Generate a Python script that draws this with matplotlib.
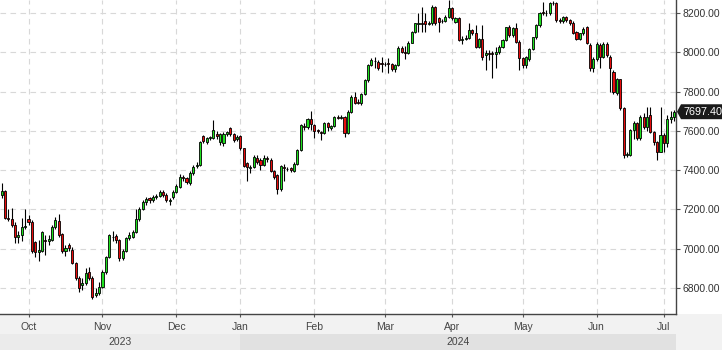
import numpy as np
import pandas as pd
import matplotlib
matplotlib.use("Agg")
import matplotlib.pyplot as plt
import matplotlib.transforms as mtransforms
from matplotlib.patches import Polygon, Rectangle

# daily candles, Sep 20 2023 .. Jul 4 2024 (Euronext trading days)
holidays = ["2023-12-25", "2023-12-26", "2024-01-01", "2024-03-29", "2024-04-01", "2024-05-01"]
dates = pd.bdate_range("2023-09-20", "2024-07-04", freq="C", holidays=holidays)

opens = [
    7274, 7294, 7158, 7150, 7121, 7060, 7068, 7110, 7150, 7135,
    7036, 6985, 6990, 7045, 7040, 7045, 7113, 7141, 7074, 6989,
    7019, 6994, 6926, 6850, 6815, 6824, 6884, 6850, 6765, 6773,
    6807, 6884, 6960, 7058, 7065, 7045, 6955, 6990, 7053, 7062,
    7087, 7150, 7200, 7236, 7258, 7248, 7262, 7270, 7290, 7275,
    7243, 7265, 7290, 7316, 7365, 7359, 7333, 7384, 7420, 7426,
    7576, 7545, 7562, 7566, 7583, 7542, 7537, 7583, 7613, 7583,
    7560, 7574, 7511, 7435, 7413, 7418, 7464, 7452, 7427, 7462,
    7452, 7398, 7376, 7303, 7415, 7405, 7410, 7398, 7432, 7503,
    7625, 7618, 7659, 7630, 7605, 7596, 7591, 7639, 7613, 7625,
    7670, 7667, 7669, 7591, 7698, 7771, 7748, 7740, 7788, 7859,
    7935, 7955, 7952, 7942, 7938, 7944, 7940, 7913, 7935, 8020,
    8003, 7998, 8049, 8105, 8144, 8147, 8161, 8144, 8147, 8232,
    8173, 8161, 8161, 8181, 8224, 8156, 8173, 8063, 8066, 8071,
    8114, 8097, 8029, 8066, 7986, 7998, 7995, 7991, 8003, 8029,
    8063, 8127, 8088, 8122, 8054, 7969, 7935, 7964, 8015, 8076,
    8139, 8205, 8198, 8198, 8249, 8252, 8164, 8160, 8177, 8164,
    8151, 8105, 8066, 8096, 8127, 8037, 7918, 7964, 8037, 7978,
    8042, 7978, 7902, 7794, 7863, 7715, 7477, 7477, 7605, 7638,
    7562, 7672, 7621, 7681, 7596, 7545, 7494, 7579, 7537, 7659,
    7670,
]
highs = [
    7335, 7300, 7200, 7205, 7135, 7090, 7155, 7200, 7170, 7145,
    7040, 7045, 7090, 7070, 7070, 7120, 7160, 7175, 7080, 7020,
    7030, 7010, 6935, 6860, 6850, 6900, 6905, 6860, 6800, 6830,
    6890, 6965, 7075, 7090, 7075, 7050, 7000, 7060, 7085, 7095,
    7200, 7215, 7250, 7262, 7265, 7275, 7280, 7300, 7300, 7285,
    7260, 7300, 7330, 7380, 7375, 7365, 7395, 7425, 7440, 7550,
    7580, 7570, 7575, 7655, 7600, 7590, 7595, 7600, 7620, 7590,
    7580, 7580, 7515, 7440, 7425, 7475, 7475, 7460, 7475, 7470,
    7460, 7400, 7380, 7425, 7430, 7415, 7415, 7440, 7510, 7635,
    7640, 7665, 7700, 7635, 7610, 7600, 7645, 7645, 7630, 7675,
    7680, 7680, 7675, 7705, 7780, 7800, 7760, 7795, 7865, 7940,
    7970, 7975, 7960, 7975, 7950, 7970, 7945, 7940, 8030, 8030,
    8030, 8055, 8110, 8150, 8198, 8230, 8198, 8160, 8241, 8235,
    8180, 8170, 8190, 8266, 8230, 8180, 8180, 8085, 8090, 8147,
    8120, 8140, 8075, 8140, 8010, 8010, 8005, 8029, 8035, 8070,
    8130, 8140, 8130, 8147, 8060, 7975, 7980, 8020, 8080, 8145,
    8205, 8258, 8215, 8255, 8260, 8255, 8175, 8185, 8185, 8170,
    8160, 8110, 8100, 8130, 8135, 8045, 7975, 8050, 8045, 8050,
    8050, 7985, 7910, 7870, 7865, 7720, 7490, 7610, 7650, 7645,
    7680, 7690, 7720, 7723, 7600, 7550, 7720, 7590, 7680, 7700,
    7705,
]
lows = [
    7260, 7150, 7140, 7110, 7030, 7030, 7040, 7100, 7120, 6980,
    6960, 6940, 6985, 6970, 7020, 7040, 7100, 7060, 6980, 6965,
    6990, 6920, 6840, 6780, 6790, 6815, 6840, 6745, 6755, 6765,
    6800, 6870, 6955, 7040, 7030, 6940, 6945, 6985, 7045, 7055,
    7080, 7140, 7195, 7225, 7235, 7240, 7255, 7262, 7265, 7240,
    7222, 7255, 7285, 7310, 7345, 7330, 7325, 7375, 7410, 7420,
    7540, 7535, 7555, 7560, 7560, 7530, 7525, 7575, 7575, 7545,
    7550, 7505, 7415, 7345, 7385, 7410, 7430, 7400, 7420, 7440,
    7390, 7355, 7279, 7295, 7345, 7395, 7390, 7390, 7428, 7500,
    7605, 7610, 7605, 7562, 7590, 7555, 7585, 7600, 7605, 7620,
    7660, 7660, 7567, 7585, 7690, 7735, 7735, 7730, 7780, 7850,
    7930, 7918, 7910, 7900, 7930, 7893, 7905, 7900, 7930, 7995,
    7965, 7990, 8045, 8100, 8105, 8105, 8105, 8140, 8140, 8140,
    8105, 8150, 8155, 8175, 8165, 8150, 8055, 8040, 8060, 8065,
    8090, 8020, 8020, 7961, 7910, 7960, 7868, 7918, 7990, 8020,
    8055, 8080, 8080, 8045, 7910, 7920, 7918, 7955, 8010, 8070,
    8130, 8190, 8185, 8190, 8240, 8155, 8150, 8150, 8155, 8140,
    8095, 8060, 8060, 8090, 8040, 7905, 7900, 7955, 7918, 7970,
    7975, 7800, 7790, 7785, 7705, 7460, 7465, 7470, 7560, 7555,
    7555, 7610, 7600, 7590, 7530, 7452, 7490, 7490, 7520, 7640,
    7650,
]
closes = [
    7294, 7158, 7150, 7121, 7062, 7070, 7113, 7118, 7135, 6989,
    6985, 6995, 7084, 7040, 7048, 7113, 7146, 7070, 6989, 7002,
    7005, 6926, 6850, 6799, 6824, 6875, 6850, 6757, 6773, 6807,
    6884, 6960, 7070, 7062, 7045, 6955, 6990, 7053, 7070, 7087,
    7150, 7200, 7240, 7254, 7248, 7265, 7270, 7288, 7275, 7248,
    7250, 7291, 7321, 7367, 7359, 7338, 7384, 7418, 7427, 7545,
    7550, 7562, 7567, 7605, 7576, 7582, 7583, 7596, 7583, 7554,
    7570, 7511, 7423, 7416, 7418, 7469, 7443, 7427, 7464, 7455,
    7398, 7367, 7303, 7421, 7410, 7408, 7400, 7432, 7503, 7630,
    7622, 7659, 7635, 7601, 7598, 7588, 7638, 7622, 7625, 7669,
    7667, 7670, 7591, 7698, 7771, 7744, 7744, 7788, 7859, 7935,
    7961, 7958, 7918, 7940, 7941, 7940, 7913, 7935, 8020, 8003,
    7998, 8049, 8105, 8147, 8147, 8144, 8144, 8147, 8232, 8147,
    8156, 8158, 8181, 8224, 8173, 8173, 8063, 8066, 8071, 8114,
    8097, 8029, 8066, 7978, 7995, 7991, 7991, 8003, 8029, 8063,
    8127, 8088, 8122, 8054, 7969, 7935, 7975, 8015, 8076, 8139,
    8202, 8200, 8200, 8249, 8252, 8164, 8160, 8177, 8164, 8150,
    8100, 8066, 8096, 8117, 8046, 7918, 7964, 8042, 7978, 8042,
    7986, 7920, 7800, 7863, 7715, 7477, 7482, 7605, 7638, 7565,
    7672, 7621, 7672, 7596, 7545, 7494, 7579, 7540, 7659, 7670,
    7697.4,
]

price_ticks = [6800, 7000, 7200, 7400, 7600, 7800, 8000, 8200]
years = ["2023", "2024"]
last_price = closes[-1]

font = ["Liberation Sans", "DejaVu Sans"]

o = np.array(opens, dtype=float)
h = np.array(highs, dtype=float)
l = np.array(lows, dtype=float)
c = np.array(closes, dtype=float)
x = np.arange(len(c))

fig = plt.figure(figsize=(7.22, 3.5), dpi=100, facecolor="#f2f2f2")
axw = 676 / 722
axb = 36 / 350
ax = fig.add_axes([0, axb, axw, 1 - axb])
fig.add_artist(Rectangle((axw, axb), 1 - axw, 1 - axb, transform=fig.transFigure,
                         facecolor="white", edgecolor="none", zorder=-1))

# wicks and bodies
ax.vlines(x, l, h, color="black", linewidth=0.8, zorder=2)
up = c >= o
body = np.where(np.abs(c - o) < 3, 3, c - o)
ax.bar(x[up], body[up], bottom=o[up], width=0.62, color="#1ee01e",
       edgecolor="black", linewidth=0.6, zorder=3)
ax.bar(x[~up], body[~up], bottom=o[~up], width=0.62, color="#e80c0c",
       edgecolor="black", linewidth=0.6, zorder=3)

xlim = (-0.48, len(c) - 0.4)
ax.set_xlim(*xlim)
ax.set_ylim(6668, 8266)

# month ticks at the first trading day of each month
month_starts = [i for i in range(1, len(dates)) if dates[i].month != dates[i - 1].month]
ax.set_xticks(month_starts)
ax.set_xticklabels([dates[i].strftime("%b") for i in month_starts], family=font,
                   fontsize=7.5, color="#444444")
ax.set_yticks(price_ticks)
ax.set_yticklabels([f"{p:.2f}" for p in price_ticks], family=font, fontsize=7.5,
                   color="#333333")
ax.yaxis.tick_right()
ax.tick_params(axis="x", direction="out", length=2.5, width=0.8, color="#555555", pad=3)
ax.tick_params(axis="y", direction="out", length=3, width=0.8, color="#555555", pad=1.5)

ax.grid(True, color="#d8d8d8", linestyle=(0, (5, 4)), linewidth=0.8, zorder=0)
ax.set_axisbelow(True)
for side in ["left", "top"]:
    ax.spines[side].set_visible(False)
for side in ["right", "bottom"]:
    ax.spines[side].set_color("#444444")
    ax.spines[side].set_linewidth(1)

# last price tag
trans = mtransforms.blended_transform_factory(ax.transAxes, ax.transData)
hh = 38
tip = 5 / 676
tag = Polygon([(1.0 + 1 / 676, last_price), (1.0 + tip, last_price + hh),
               (722 / 676, last_price + hh), (722 / 676, last_price - hh),
               (1.0 + tip, last_price - hh)],
              closed=True, transform=trans, facecolor="#1a1a1a", edgecolor="none",
              clip_on=False, zorder=10)
ax.add_patch(tag)
ax.text(1.0 + 7 / 676, last_price, f"{last_price:.2f}", transform=trans, ha="left",
        va="center", color="white", fontsize=7.8, family=font, clip_on=False, zorder=11)

# year band
yax = fig.add_axes([0, 0, axw, 16 / 350])
yax.set_xlim(*xlim)
yax.set_ylim(0, 1)
jan = month_starts[3]
yax.axvspan(xlim[0], jan, color="#ebebeb", linewidth=0)
yax.axvspan(jan, xlim[1], color="#e1e1e1", linewidth=0)
yax.text((xlim[0] + jan) / 2, 0.5, years[0], ha="center", va="center", fontsize=7.5,
         family=font, color="#444444")
yax.text((jan + xlim[1]) / 2, 0.5, years[1], ha="center", va="center", fontsize=7.5,
         family=font, color="#444444")
yax.axis("off")

plt.savefig("out.png", dpi=100, facecolor=fig.get_facecolor())
